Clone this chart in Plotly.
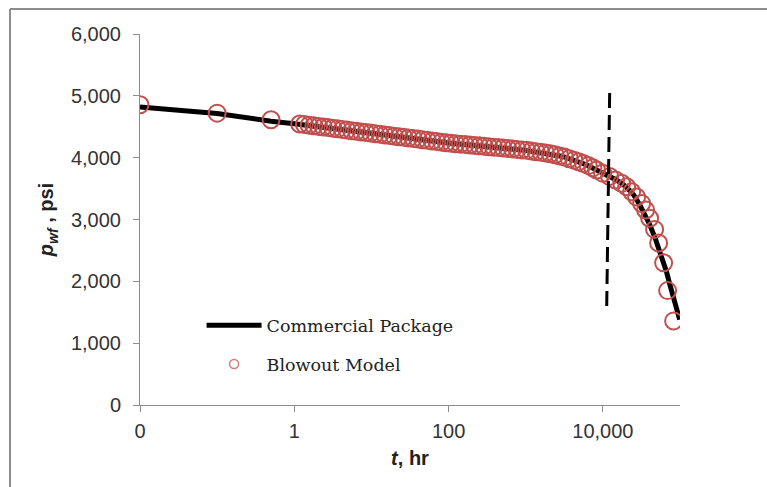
import plotly.graph_objects as go

# ---- data ----
blowout_t = [0.01, 0.1, 0.5,
             1.175, 1.353, 1.558, 1.794, 2.067, 2.380, 2.741, 3.156, 3.634, 4.184,
             4.819, 5.549, 6.390, 7.358, 8.477, 9.761, 11.24, 12.94, 14.91, 17.17,
             19.77, 22.77, 26.22, 30.20, 34.77, 40.04, 46.11, 53.10, 61.15, 70.42,
             81.10, 93.39, 107.6, 123.9, 142.6, 164.3, 189.2, 217.8, 250.9, 288.9,
             332.7, 383.1, 441.2, 508.1, 585.1, 673.8, 775.9, 893.5, 1029, 1185,
             1365, 1572, 1810, 2084, 2400, 2764, 3183, 3665, 4221, 4861,
             5598, 6446, 7424,
             8310, 9940, 12250, 14650, 17520, 20340, 23610, 27410, 31810, 35840,
             40390, 46880, 52830, 61330, 69100, 82630]
blowout_p = [4855, 4720, 4612,
             4545, 4535, 4525, 4515, 4505, 4495, 4486, 4476, 4466, 4456,
             4446, 4436, 4426, 4416, 4407, 4397, 4387, 4377, 4368, 4358,
             4348, 4339, 4329, 4319, 4309, 4300, 4290, 4280, 4271, 4261,
             4251, 4242, 4233, 4226, 4219, 4212, 4205, 4198, 4191, 4184,
             4177, 4170, 4163, 4155, 4148, 4141, 4133, 4126, 4118, 4108,
             4097, 4087, 4077, 4064, 4046, 4028, 4009, 3984, 3960, 3935,
             3904, 3872, 3835,
             3800, 3750, 3695, 3640, 3585, 3530, 3450, 3365, 3260, 3155,
             3020, 2840, 2620, 2300, 1850, 1360]

commercial_t = [0.01, 0.1, 0.5, 1, 10, 100, 1000, 3000, 6000, 10000, 15000,
                20000, 25000, 30000, 35000, 40000, 47000, 53000, 60000, 67000,
                73000, 80000, 89000, 99000]
commercial_p = [4820, 4715, 4590, 4550, 4395, 4237, 4118, 4020, 3890, 3755, 3640,
                3530, 3400, 3240, 3095, 2930, 2720, 2540, 2345, 2150,
                1970, 1780, 1590, 1380]

marker_t = [12250, 11200]
marker_p = [5046, 1520]

x_tickvals = [0.01, 1, 100, 10000]
x_ticktext = ["0", "1", "100", "10,000"]
y_tickvals = [0, 1000, 2000, 3000, 4000, 5000, 6000]

RED = "#C0504D"
GRAY = "#8c8c8c"
TICKFONT = dict(family="Liberation Sans, Arial, sans-serif", size=20, color="#333333")
LEGFONT = dict(family="DejaVu Serif, serif", size=17.5, color="#222222")
TITLEFONT = dict(family="Liberation Sans, Arial, sans-serif", size=20, color="#222222")

fig = go.Figure()

fig.add_trace(go.Scatter(x=commercial_t, y=commercial_p, mode="lines",
                         line=dict(color="black", width=5), showlegend=False,
                         hoverinfo="skip"))
fig.add_trace(go.Scatter(x=blowout_t, y=blowout_p, mode="markers",
                         marker=dict(symbol="circle-open", size=17, color=RED,
                                     line=dict(width=2, color=RED)),
                         showlegend=False))
fig.add_trace(go.Scatter(x=marker_t, y=marker_p, mode="lines",
                         line=dict(color="black", width=3, dash="15px,7px"),
                         showlegend=False))

# legend entries
fig.add_trace(go.Scatter(x=[None], y=[None], mode="lines", name="Commercial Package",
                         line=dict(color="black", width=5), legendgroup="a"))
fig.add_trace(go.Scatter(x=[None], y=[None], mode="markers", name="Blowout Model",
                         marker=dict(symbol="circle-open", size=9, color="#d27c79",
                                     line=dict(width=1.5, color="#d27c79")),
                         legendgroup="b"))

fig.update_xaxes(type="log", range=[-2, 5], tickvals=x_tickvals, ticktext=x_ticktext,
                 showline=True, linecolor=GRAY, linewidth=1, ticks="outside",
                 ticklen=6, tickcolor=GRAY, showgrid=False, zeroline=False,
                 tickfont=TICKFONT, ticklabelstandoff=2,
                 title=dict(text="<b><i>t</i>, hr</b>", standoff=9, font=TITLEFONT))
fig.update_yaxes(range=[0, 6000], tickvals=y_tickvals, tickformat=",",
                 showline=True, linecolor=GRAY, linewidth=1, ticks="outside",
                 ticklen=6, tickcolor=GRAY, showgrid=False, zeroline=False,
                 tickfont=TICKFONT, ticklabelstandoff=8,
                 title=dict(text="<b><i>p</i></b><sub><b><i>wf</i></b></sub><b> , psi</b>",
                            standoff=11, font=TITLEFONT))

fig.update_layout(
    width=767, height=487,
    margin=dict(l=140, r=87, t=34, b=82),
    paper_bgcolor="white", plot_bgcolor="white",
    legend=dict(x=0.114, y=0.263, xanchor="left", yanchor="top",
                bgcolor="rgba(0,0,0,0)", font=LEGFONT, itemwidth=55,
                tracegroupgap=13),
    shapes=[
        dict(type="line", xref="paper", yref="paper", x0=-0.2407, x1=-0.2407,
             y0=-0.4, y1=1.0674, line=dict(color=GRAY, width=2)),
        dict(type="line", xref="paper", yref="paper", x0=-0.2407, x1=1.4,
             y0=1.0674, y1=1.0674, line=dict(color=GRAY, width=2)),
    ],
)

fig.write_html("out.html")
